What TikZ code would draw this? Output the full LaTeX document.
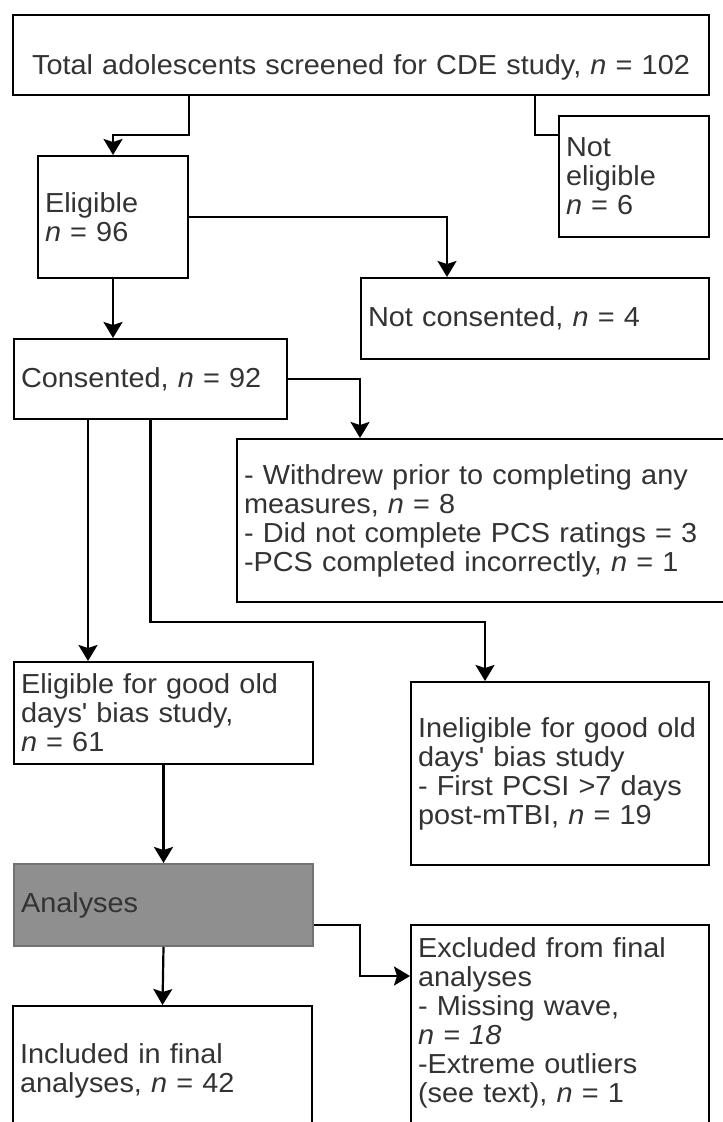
\documentclass[tikz,border=0pt]{standalone}
\usepackage{fontspec}
\setmainfont{Liberation Sans}[FakeStretch=1.05]
\usetikzlibrary{arrows.meta}

\definecolor{analysesfill}{RGB}{143,143,143}
\tikzset{
  box/.style={draw, line width=2pt, anchor=north west, align=left,
    inner xsep=7pt, inner ysep=0pt, text=black!80,
    font=\fontsize{27.5}{29}\selectfont},
  link/.style={line width=2.2pt},
  arr/.style={link, -{Stealth[length=16pt,width=19pt,inset=3pt]}},
}

\begin{document}
\begin{tikzpicture}[x=1pt,y=-1pt]
        \useasboundingbox (0,0) rectangle (723,1122);
        \fill[white] (0,0) rectangle (723,1122);
        \clip (0,0) rectangle (723,1122);
        % boxes
        \node[box, align=center, text width=682pt, minimum height=80pt, text height=38pt, text depth=0pt] (total) at (12,14) {Total adolescents screened for CDE study, \textit{n} = 102};
        \node[box, text width=136pt, minimum height=122pt] (eligible) at (37,155) {Eligible\\\textit{n} = 96};
        \node[box, text width=136pt, minimum height=121pt] (noteligible) at (558,115) {Not\\eligible\\\textit{n} = 6};
        \node[box, text width=334pt, minimum height=81pt] (notconsented) at (360,277) {Not consented, \textit{n} = 4};
        \node[box, text width=259pt, minimum height=80pt] (consented) at (13,338) {Consented, \textit{n} = 92};
        \node[box, text width=486pt, minimum height=163pt] (withdrew) at (236,438) {- Withdrew prior to completing any\\measures, \textit{n} = 8\\- Did not complete PCS ratings = 3\\-PCS completed incorrectly, \textit{n} = 1};
        \node[box, text width=285pt, minimum height=102pt] (eligood) at (13,661) {Eligible for good old\\days\textquotesingle{} bias study,\\\textit{n} = 61};
        \node[box, text width=284pt, minimum height=183pt] (ineligible) at (410,681) {Ineligible for good old\\days\textquotesingle{} bias study\\- First PCSI >7 days\\post-mTBI, \textit{n} = 19};
        \node[box, fill=analysesfill, draw=black!55, text width=285pt, minimum height=82pt] (analyses) at (13,863) {Analyses};
        \node[box, text width=284pt, minimum height=219pt] (excluded) at (410,924) {Excluded from final\\analyses\\- Missing wave,\\\textit{n = 18}\\-Extreme outliers\\(see text), \textit{n} = 1\\\mbox{}};
        \node[box, text width=285pt, minimum height=130pt] (included) at (12,1005) {Included in final\\analyses, \textit{n} = 42};
        % connectors
        \draw[arr] (eligible.east |- total.south) -- (eligible.east |- 0,135) -| (eligible.north);
        \draw[link] (535,0 |- total.south) |- (noteligible.west |- 0,135);
        \draw[arr] (eligible.east) -| (447,0 |- notconsented.north);
        \draw[arr] (eligible.south) -- (eligible.south |- consented.north);
        \draw[arr] (consented.east) -| (360,0 |- withdrew.north);
        \draw[arr] (88,0 |- consented.south) -- (88,0 |- eligood.north);
        \draw[arr] (consented.south) |- (485,622) -- (485,0 |- ineligible.north);
        \draw[arr] (eligood.south) -- (analyses.north);
        \draw[arr] (analyses.south) -- (included.north);
        \draw[arr] (analyses.east |- 0,925) -| (360,976) -- (excluded.west |- 0,976);
\end{tikzpicture}
\end{document}
